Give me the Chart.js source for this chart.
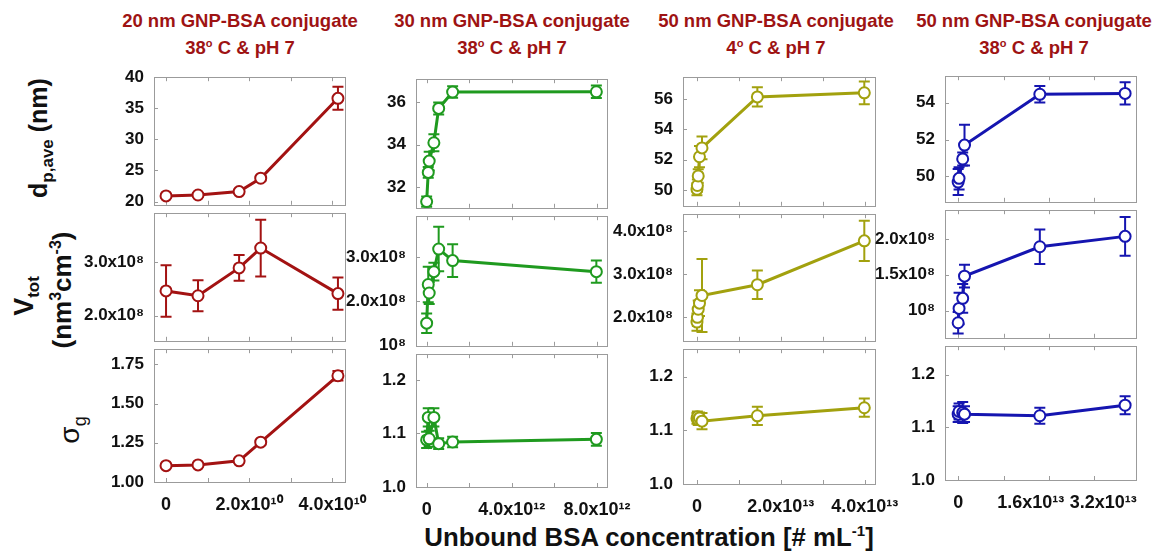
<!DOCTYPE html>
<html><head><meta charset="utf-8">
<script src="https://cdn.jsdelivr.net/npm/chart.js@4/dist/chart.umd.min.js"></script>
<style>
html,body{margin:0;padding:0;background:#fff;width:1158px;height:552px;overflow:hidden;position:relative;font-family:"Liberation Sans",Arial,sans-serif;}
canvas{position:absolute;}
.lbl{position:absolute;white-space:nowrap;font-weight:bold;transform:translate(-50%,-50%);line-height:1;color:#111;}
.rot{transform:translate(-50%,-50%) rotate(-90deg);}
.title{color:#9e1313;font-size:18.5px;text-align:center;line-height:27px;}
.title sup{font-size:11px;vertical-align:7px;line-height:0;}
sub,sup{line-height:0;}
</style></head><body>
<div class="lbl title" style="left:240px;top:34px">20 nm GNP-BSA conjugate<br>38<sup>o</sup> C &amp; pH 7</div>
<div class="lbl title" style="left:512px;top:34px">30 nm GNP-BSA conjugate<br>38<sup>o</sup> C &amp; pH 7</div>
<div class="lbl title" style="left:776px;top:34px">50 nm GNP-BSA conjugate<br>4<sup>o</sup> C &amp; pH 7</div>
<div class="lbl title" style="left:1034px;top:34px">50 nm GNP-BSA conjugate<br>38<sup>o</sup> C &amp; pH 7</div>

<div class="lbl rot" style="left:38px;top:138px;font-size:25px">d<sub style="font-size:17px;vertical-align:-6px">p,ave</sub> (nm)</div>
<div class="lbl rot" style="left:24px;top:296px;font-size:27px">V<sub style="font-size:17px;vertical-align:-6px">tot</sub></div>
<div class="lbl rot" style="left:62px;top:290px;font-size:26px">(nm<sup style="font-size:16px;vertical-align:10px">3</sup>cm<sup style="font-size:16px;vertical-align:10px">-3</sup>)</div>
<div class="lbl rot" style="left:70px;top:430px;font-size:28px;font-weight:normal">σ<sub style="font-size:18px;vertical-align:-7px">g</sub></div>
<div class="lbl" style="left:649px;top:538px;font-size:25.8px">Unbound BSA concentration [# mL<sup style="font-size:15px;vertical-align:10px">-1</sup>]</div>

<script>
// ---------------- DATA ----------------
// 20 nm GNP-BSA conjugate, 38 C, pH 7
const c20_x    = [0, 0.77e10, 1.76e10, 2.28e10, 4.14e10];
const c20_d    = [20.9, 21.05, 21.6, 23.75, 36.6];
const c20_dErr = [0.3, 0.3, 0.3, 0.4, 1.85];
const c20_v    = [2.46e8, 2.37e8, 2.89e8, 3.26e8, 2.41e8];
const c20_vErr = [0.48e8, 0.29e8, 0.24e8, 0.53e8, 0.30e8];
const c20_s    = [1.104, 1.109, 1.135, 1.254, 1.677];
const c20_sErr = [0.01, 0.01, 0.012, 0.015, 0.03];

// 30 nm GNP-BSA conjugate, 38 C, pH 7
const c30_x    = [0, 0.075e12, 0.12e12, 0.34e12, 0.565e12, 1.22e12, 7.97e12];
const c30_d    = [31.33, 32.7, 33.23, 34.09, 35.7, 36.47, 36.48];
const c30_dErr = [0.24, 0.25, 0.44, 0.4, 0.28, 0.27, 0.29];
const c30_v    = [1.51e8, 2.38e8, 2.19e8, 2.67e8, 3.18e8, 2.92e8, 2.67e8];
const c30_vErr = [0.22e8, 0.4e8, 0.25e8, 0.2e8, 0.5e8, 0.37e8, 0.25e8];
const c30_s    = [1.088, 1.13, 1.09, 1.13, 1.081, 1.084, 1.089];
const c30_sErr = [0.015, 0.017, 0.015, 0.017, 0.01, 0.01, 0.012];

// 50 nm GNP-BSA conjugate, 4 C, pH 7
const c50a_x    = [0, 0.01e13, 0.03e13, 0.06e13, 0.12e13, 1.44e13, 3.99e13];
const c50a_d    = [50.05, 50.3, 50.93, 52.2, 52.78, 56.15, 56.42];
const c50a_dErr = [0.4, 0.4, 0.45, 0.7, 0.75, 0.63, 0.75];
const c50a_v    = [1.89e8, 2.0e8, 2.19e8, 2.33e8, 2.51e8, 2.76e8, 3.78e8];
const c50a_vErr = [0.2e8, 0.2e8, 0.2e8, 0.3e8, 0.85e8, 0.33e8, 0.47e8];
const c50a_s    = [1.122, 1.125, 1.12, 1.123, 1.117, 1.127, 1.142];
const c50a_sErr = [0.01, 0.01, 0.01, 0.01, 0.015, 0.017, 0.017];

// 50 nm GNP-BSA conjugate, 38 C, pH 7
const c50b_x    = [0, 0.02e13, 0.10e13, 0.14e13, 1.80e13, 3.68e13];
const c50b_d    = [49.7, 49.9, 50.95, 51.7, 54.45, 54.5];
const c50b_dErr = [0.7, 0.6, 0.35, 1.1, 0.45, 0.6];
const c50b_v    = [0.83e8, 1.03e8, 1.17e8, 1.48e8, 1.89e8, 2.035e8];
const c50b_vErr = [0.15e8, 0.22e8, 0.2e8, 0.16e8, 0.24e8, 0.27e8];
const c50b_s    = [1.125, 1.13, 1.128, 1.125, 1.122, 1.142];
const c50b_sErr = [0.015, 0.015, 0.02, 0.015, 0.015, 0.017];

// tick values
const c20_xTicks = [0, 2e10, 4e10],  c20_xMinor = [0, 1e10, 2e10, 3e10, 4e10];
const c30_xTicks = [0, 4e12, 8e12],  c30_xMinor = [0, 2e12, 4e12, 6e12, 8e12];
const c50a_xTicks = [0, 2e13, 4e13], c50a_xMinor = [0, 1e13, 2e13, 3e13, 4e13];
const c50b_xTicks = [0, 1.6e13, 3.2e13], c50b_xMinor = [0, 1e13, 2e13, 3e13];
const c20_dTicks = [20, 25, 30, 35, 40], c20_vTicks = [2e8, 3e8], c20_sTicks = [1.0, 1.25, 1.5, 1.75];
const c30_dTicks = [32, 34, 36], c30_vTicks = [1e8, 2e8, 3e8], c30_sTicks = [1.0, 1.1, 1.2];
const c50a_dTicks = [50, 52, 54, 56], c50a_vTicks = [2e8, 3e8, 4e8], c50a_sTicks = [1.0, 1.1, 1.2];
const c50b_dTicks = [50, 52, 54], c50b_vTicks = [1e8, 1.5e8, 2e8], c50b_sTicks = [1.0, 1.1, 1.2];

// ---------------- RENDER ----------------
Chart.defaults.font.family = '"Liberation Sans", Arial, sans-serif';
Chart.defaults.font.size = 17;
Chart.defaults.font.weight = 'bold';
Chart.defaults.color = '#111';

const SUP = {'0':'⁰','1':'¹','2':'²','3':'³','4':'⁴','5':'⁵','6':'⁶','7':'⁷','8':'⁸','9':'⁹','-':'⁻'};
const sup = s => String(s).split('').map(c => SUP[c] || c).join('');
const fmtSci = (v, e) => {
  if (Math.abs(v) < 1e-30) return '0';
  const m = v / Math.pow(10, e);
  if (Math.abs(m - 1) < 1e-9) return '10' + sup(e);
  return m.toFixed(1) + 'x10' + sup(e);
};

const columns = [
  {x: c20_x, xTicks: c20_xTicks, xMinor: c20_xMinor, xExp: 10, xMin: -0.29e10, xMax: 4.31e10, color: '#a31212',
   geom: {L: 154, R: 345, T: 73, b1: 209, b2: 345, B: 482},
   rows: [
     {y: c20_d, e: c20_dErr, min: 19.47, max: 40, ticks: c20_dTicks, fmt: v => v.toFixed(0)},
     {y: c20_v, e: c20_vErr, min: 1.53e8, max: 3.91e8, ticks: c20_vTicks, fmt: v => fmtSci(v, 8)},
     {y: c20_s, e: c20_sErr, min: 1.0, max: 1.846, ticks: c20_sTicks, fmt: v => v.toFixed(2)}]},
  {x: c30_x, xTicks: c30_xTicks, xMinor: c30_xMinor, xExp: 12, xMin: -0.5e12, xMax: 8.47e12, color: '#1f9a1f',
   geom: {L: 416, R: 607, T: 75, b1: 212, b2: 350, B: 487},
   rows: [
     {y: c30_d, e: c30_dErr, min: 31.04, max: 37.07, ticks: c30_dTicks, fmt: v => v.toFixed(0)},
     {y: c30_v, e: c30_vErr, min: 1.0e8, max: 3.92e8, ticks: c30_vTicks, fmt: v => fmtSci(v, 8)},
     {y: c30_s, e: c30_sErr, min: 1.0, max: 1.248, ticks: c30_sTicks, fmt: v => v.toFixed(1)}]},
  {x: c50a_x, xTicks: c50a_xTicks, xMinor: c50a_xMinor, xExp: 13, xMin: -0.333e13, xMax: 4.245e13, color: '#a2a10e',
   geom: {L: 683, R: 875, T: 73, b1: 210, b2: 345, B: 484},
   rows: [
     {y: c50a_d, e: c50a_dErr, min: 48.96, max: 57.45, ticks: c50a_dTicks, fmt: v => v.toFixed(0)},
     {y: c50a_v, e: c50a_vErr, min: 1.455e8, max: 4.4e8, ticks: c50a_vTicks, fmt: v => fmtSci(v, 8)},
     {y: c50a_s, e: c50a_sErr, min: 1.0, max: 1.251, ticks: c50a_sTicks, fmt: v => v.toFixed(1)}]},
  {x: c50b_x, xTicks: c50b_xTicks, xMinor: c50b_xMinor, xExp: 13, xMin: -0.29e13, xMax: 3.92e13, color: '#1515b0',
   geom: {L: 945, R: 1136, T: 72, b1: 206, b2: 342, B: 480},
   rows: [
     {y: c50b_d, e: c50b_dErr, min: 48.63, max: 55.43, ticks: c50b_dTicks, fmt: v => v.toFixed(0)},
     {y: c50b_v, e: c50b_vErr, min: 0.62e8, max: 2.40e8, ticks: c50b_vTicks, fmt: v => fmtSci(v, 8)},
     {y: c50b_s, e: c50b_sErr, min: 1.0, max: 1.254, ticks: c50b_sTicks, fmt: v => v.toFixed(1)}]}
];

const panelPlugin = {
  id: 'panel',
  beforeDatasetsDraw(chart) {
    const {ctx, chartArea: a, scales: {x, y}} = chart;
    const cfg = chart.options.plugins.panel;
    ctx.save();
    // frame
    ctx.strokeStyle = '#9b9b9b';
    ctx.lineWidth = 1;
    ctx.strokeRect(Math.round(a.left) + 0.5, Math.round(a.top) + 0.5, Math.round(a.right - a.left), Math.round(a.bottom - a.top));
    // inside tick marks
    ctx.beginPath();
    cfg.xMinor.forEach(v => {
      const px = Math.round(x.getPixelForValue(v)) + 0.5;
      ctx.moveTo(px, a.bottom); ctx.lineTo(px, a.bottom - 4);
      ctx.moveTo(px, a.top); ctx.lineTo(px, a.top + 4);
    });
    y.ticks.forEach(t => {
      const py = Math.round(y.getPixelForValue(t.value)) + 0.5;
      ctx.moveTo(a.left, py); ctx.lineTo(a.left + 4, py);
    });
    ctx.stroke();
    // error bars
    ctx.strokeStyle = cfg.color;
    ctx.lineWidth = 2;
    chart.data.datasets.forEach(ds => {
      ds.data.forEach((p, j) => {
        const e = ds.errors[j];
        const px = x.getPixelForValue(p.x);
        const y1 = y.getPixelForValue(p.y + e), y2 = y.getPixelForValue(p.y - e);
        ctx.beginPath();
        ctx.moveTo(px, y1); ctx.lineTo(px, y2);
        ctx.moveTo(px - 5.5, y1); ctx.lineTo(px + 5.5, y1);
        ctx.moveTo(px - 5.5, y2); ctx.lineTo(px + 5.5, y2);
        ctx.stroke();
      });
    });
    ctx.restore();
  }
};

columns.forEach(col => {
  const g = col.geom;
  col.rows.forEach((row, r) => {
    const top = [g.T, g.b1, g.b2][r];
    const bot = [g.b1, g.b2, g.B][r];
    const isBottom = r === 2;
    const LW = 100, PT = 16, PR = 48, PB = isBottom ? 50 : 16;
    const cw = LW + (g.R - g.L) + PR, ch = PT + (bot - top) + PB;
    const cv = document.createElement('canvas');
    cv.width = cw; cv.height = ch;
    cv.style.width = cw + 'px'; cv.style.height = ch + 'px';
    cv.style.left = (g.L - LW) + 'px'; cv.style.top = (top - PT) + 'px';
    document.body.appendChild(cv);
    const data = col.x.map((xv, i) => ({x: xv, y: row.y[i]}));
    new Chart(cv, {
      type: 'scatter',
      data: {datasets: [{
        data, errors: row.e, showLine: true, clip: false,
        borderColor: col.color, borderWidth: 3, tension: 0,
        pointRadius: 5.5, pointBorderWidth: 2, pointBackgroundColor: '#fff', pointBorderColor: col.color
      }]},
      options: {
        responsive: false, animation: false, events: [],
        layout: {padding: {left: 0, top: PT, right: PR, bottom: isBottom ? 0 : PB}},
        plugins: {legend: {display: false}, tooltip: {enabled: false},
                  panel: {xMinor: col.xMinor, color: col.color}},
        scales: {
          x: {type: 'linear', min: col.xMin, max: col.xMax, display: isBottom,
              grid: {display: false, drawTicks: false}, border: {display: false},
              ticks: {padding: 12, autoSkip: false, maxRotation: 0, font: {size: 18}, callback: v => fmtSci(v, col.xExp)},
              afterBuildTicks: s => { s.ticks = col.xTicks.map(v => ({value: v})); },
              afterFit: s => { if (isBottom) s.height = PB; }},
          y: {type: 'linear', min: row.min, max: row.max,
              grid: {display: false, drawTicks: false}, border: {display: false},
              ticks: {padding: 10, autoSkip: false, callback: v => row.fmt(v)},
              afterBuildTicks: s => { s.ticks = row.ticks.map(v => ({value: v})); },
              afterFit: s => { s.width = LW; }}
        }
      },
      plugins: [panelPlugin]
    });
  });
});
</script>
</body></html>
